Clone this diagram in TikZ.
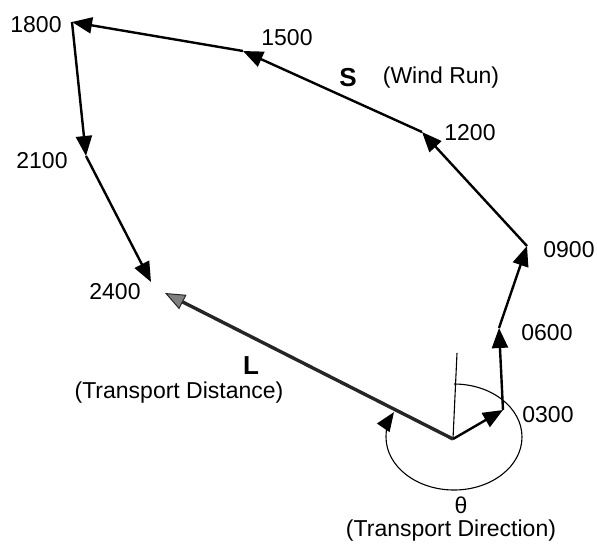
\documentclass[tikz,border=0pt]{standalone}
\usepackage{fontspec}
\setmainfont{Liberation Sans}
\usetikzlibrary{arrows.meta}
\begin{document}
\begin{tikzpicture}[x=1pt,y=-1pt,
  leg/.style={line width=2.4pt, -{Triangle[length=20pt,width=16pt]}},
  ldist/.style={line width=3.4pt, draw=black!85, -{Triangle[length=20pt,width=16pt,fill=black!50,line width=1pt]}},
  thinline/.style={line width=1.1pt},
  lab/.style={font=\fontsize{23}{26}\selectfont, inner sep=0pt},
  big/.style={font=\fontsize{26}{30}\selectfont\bfseries, inner sep=0pt}]
\useasboundingbox (0,0) rectangle (597,544);
% vertices
\coordinate (o)   at (453,439);
\coordinate (h03) at (503,410);
\coordinate (h06) at (499,328);
\coordinate (h09) at (527,246);
\coordinate (h12) at (422,132);
\coordinate (h15) at (243,51);
\coordinate (h18) at (72,22);
\coordinate (h21) at (86,156);
\coordinate (h24) at (151,282);
\coordinate (lend) at (165,293);
\coordinate (vtop) at (457,353);
\coordinate (ec)  at (454,437);
% reference line and angle arc
\draw[thinline] (o) -- (vtop);
\draw[thinline, -{Triangle[length=19pt,width=15pt]}] (ec) ++(270:68 and 53)
  arc[start angle=270, end angle=568, x radius=68, y radius=53];
% wind run path
\draw[leg] (o) -- (h03);
\draw[leg] (h03) -- (h06);
\draw[leg] (h06) -- (h09);
\draw[leg] (h09) -- (h12);
\draw[leg] (h12) -- (h15);
\draw[leg] (h15) -- (h18);
\draw[leg] (h18) -- (h21);
\draw[leg] (h21) -- (h24);
% transport distance
\draw[ldist] (o) -- (lend);
% labels
\node[lab] (t03) at (548,415) {0300};
\node[lab] (t06) at (547,333) {0600};
\node[lab] (t09) at (569,250) {0900};
\node[lab] (t12) at (470,133) {1200};
\node[lab] (t15) at (287,38) {1500};
\node[lab] (t18) at (36,25) {1800};
\node[lab] (t21) at (42,161) {2100};
\node[lab] (t24) at (115,292) {2400};
\node[big] (tS) at (348,78) {S};
\node[lab] (tWR) at (441,78) {(Wind Run)};
\node[big, anchor=base] (tL) at (251,374) {L};
\node[lab, anchor=base] (tTD) at (179,398) {(Transport Distance)};
\node[lab] (tth) at (461,505) {θ};
\node[lab] (tDir) at (451,531) {(Transport Direction)};
\end{tikzpicture}
\end{document}
